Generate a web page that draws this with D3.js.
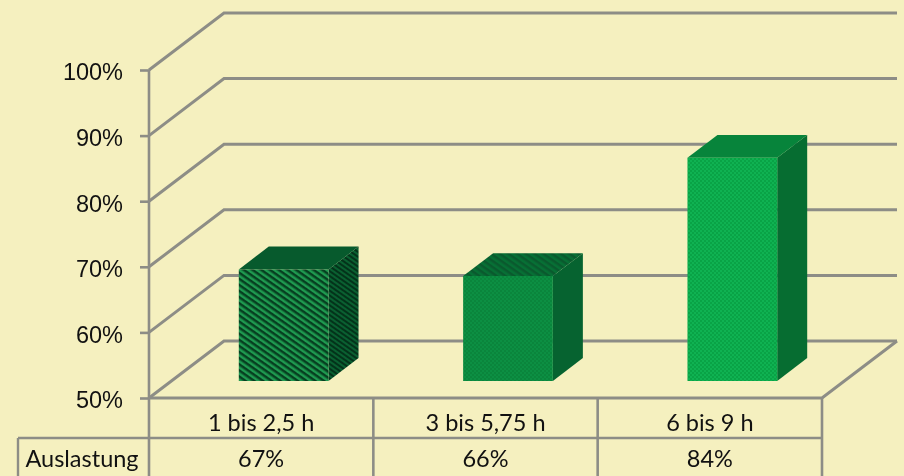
<!DOCTYPE html>
<html><head><meta charset="utf-8">
<script src="https://cdn.jsdelivr.net/npm/d3@7"></script>
<style>
html,body{margin:0;padding:0;background:#f5f0bf;overflow:hidden}
svg{display:block;font-family:Lato,"Noto Sans",sans-serif;filter:blur(.4px)}
</style></head><body>
<div id="chart"></div>
<script>
const categories = ["1 bis 2,5 h","3 bis 5,75 h","6 bis 9 h"];
const values = [67,66,84];
const valueLabels = ["67%","66%","84%"];
const rowLabel = "Auslastung";
const yTicks = [50,60,70,80,90,100];

const W=904,H=476;
const x0=149,x1=822,yBottom=398,yTop=70;
const depthX=75,depthY=-57;
const rowY=438;
const gridColor="#8d8d86",textColor="#111111";
const fontSize=23.5;

const svg=d3.select("#chart").append("svg").attr("width",W).attr("height",H);
svg.append("rect").attr("width",W).attr("height",H).attr("fill","#f5f0bf");

const y=d3.scaleLinear().domain([50,100]).range([yBottom,yTop]);
const x=d3.scaleBand().domain(categories).range([x0,x1]).paddingInner(0).paddingOuter(0);
const back=(px,py,d)=>[px+depthX*d,py+depthY*d];

const defs=svg.append("defs");
function stripes(id,c1,c2,size){
  const p=defs.append("pattern").attr("id",id).attr("patternUnits","userSpaceOnUse")
    .attr("width",size).attr("height",size).attr("patternTransform","rotate(35)");
  p.append("rect").attr("width",size).attr("height",size).attr("fill",c1);
  p.append("rect").attr("width",size).attr("height",size/2).attr("fill",c2);
}
function dots(id,c1,c2,size){
  const p=defs.append("pattern").attr("id",id).attr("patternUnits","userSpaceOnUse")
    .attr("width",size).attr("height",size);
  p.append("rect").attr("width",size).attr("height",size).attr("fill",c1);
  p.append("rect").attr("width",size/2).attr("height",size/2).attr("fill",c2);
  p.append("rect").attr("x",size/2).attr("y",size/2).attr("width",size/2).attr("height",size/2).attr("fill",c2);
}
stripes("s1front","#1f9a50","#063f20",5);
stripes("s1side","#0a6031","#03331a",4);
stripes("s2top","#077035","#0a5a2e",5);
dots("d2front","#0a853c","#0c8f43",4);
dots("d3front","#0fb252","#09a346",4);

const styles=[
 {front:"url(#s1front)",top:"#075a2d",side:"url(#s1side)"},
 {front:"url(#d2front)",top:"url(#s2top)",side:"#066330"},
 {front:"url(#d3front)",top:"#07843b",side:"#066d31"}
];

// walls
const gridG=svg.append("g").attr("fill","none").attr("stroke",gridColor).attr("stroke-width",3);
gridG.selectAll("polyline.grid").data(yTicks).join("polyline").attr("class","grid")
  .attr("points",d=>{const a=[x0,y(d)],b=back(x0,y(d),1),c=[x1+depthX,y(d)+depthY];return [a,b,c].join(" ");});
gridG.append("polyline").attr("points",[[x0,yBottom],[x1,yBottom],[x1+depthX,yBottom+depthY]].join(" "));

// bars
const zFront=0.3,zBack=0.7;
const bw=x.bandwidth()*0.4;
const bars=svg.append("g").selectAll("g").data(categories.map((c,i)=>({c,v:values[i],s:styles[i]}))).join("g");
const P=(px,py,z)=>back(px,py,z);
bars.each(function(d){
  const g=d3.select(this);
  const l=x(d.c)+x.bandwidth()/2-bw/2,r=l+bw,t=y(d.v),b=y(50);
  const poly=(pts,fill)=>g.append("polygon").attr("points",pts.join(" ")).attr("fill",fill);
  poly([P(r,t,zFront),P(r,t,zBack),P(r,b,zBack),P(r,b,zFront)],d.s.side);
  poly([P(l,t,zFront),P(l,t,zBack),P(r,t,zBack),P(r,t,zFront)],d.s.top);
  poly([P(l,t,zFront),P(r,t,zFront),P(r,b,zFront),P(l,b,zFront)],d.s.front);
});

// y axis
const axis=d3.axisLeft(y).tickValues(yTicks).tickFormat(d=>d+"%").tickSize(9).tickPadding(17);
const ag=svg.append("g").attr("transform",`translate(${x0},0)`).call(axis);
ag.select(".domain").remove();
ag.selectAll("line").attr("stroke",gridColor).attr("stroke-width",2.6);
ag.selectAll("text").attr("fill",textColor).attr("font-size",fontSize).attr("dy","0.42em");

// table
const tbl=svg.append("g").attr("stroke",gridColor).attr("fill","none");
tbl.append("line").attr("x1",18).attr("x2",x1).attr("y1",rowY).attr("y2",rowY).attr("stroke-width",2.4);
tbl.append("line").attr("x1",18).attr("x2",18).attr("y1",rowY).attr("y2",H).attr("stroke-width",2.4);
const seps=categories.map(c=>x(c)).concat([x1]);
tbl.selectAll("line.sep").data(seps).join("line").attr("class","sep")
  .attr("x1",d=>d).attr("x2",d=>d).attr("y1",(d,i)=>i==0?yTop:yBottom).attr("y2",H).attr("stroke-width",2.6);

const txt=svg.append("g").attr("fill",textColor).attr("font-size",fontSize).attr("text-anchor","middle");
txt.selectAll("text.cat").data(categories).join("text").attr("class","cat")
  .attr("x",d=>x(d)+x.bandwidth()/2).attr("y",431).text(d=>d);
txt.selectAll("text.val").data(valueLabels).join("text").attr("class","val")
  .attr("x",(d,i)=>x(categories[i])+x.bandwidth()/2).attr("y",467).text(d=>d);
txt.append("text").attr("x",82).attr("y",467).text(rowLabel);
</script>
</body></html>
